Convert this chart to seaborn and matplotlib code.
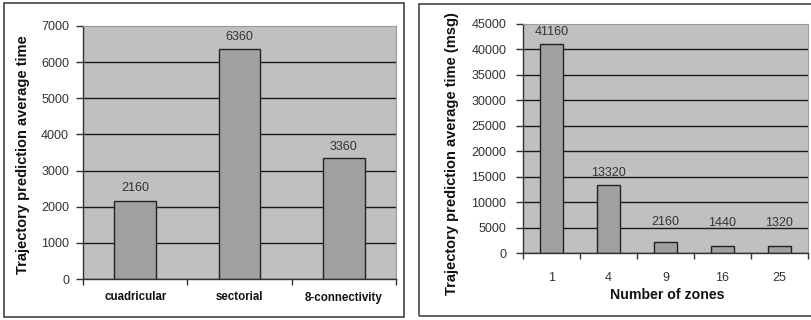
import matplotlib
matplotlib.use("Agg")
import matplotlib.pyplot as plt
from matplotlib.patches import Rectangle
from matplotlib.ticker import FixedLocator
import seaborn as sns
import pandas as pd

# Average trajectory prediction time per grid method
methods = ["cuadricular", "sectorial", "8-connectivity"]
method_times = [2160, 6360, 3360]
method_yticks = [0, 1000, 2000, 3000, 4000, 5000, 6000, 7000]

# Average trajectory prediction time per number of zones
zones = ["1", "4", "9", "16", "25"]
zone_times = [41160, 13320, 2160, 1440, 1320]
zone_yticks = [0, 5000, 10000, 15000, 20000, 25000, 30000, 35000, 40000, 45000]

sns.set_theme(style="white")
plt.rcParams["font.family"] = ["Liberation Sans", "DejaVu Sans"]

W, H = 812, 320
fig = plt.figure(figsize=(W / 100, H / 100), dpi=100)
fig.patch.set_facecolor("white")


def px_box(x0, y0, x1, y1):
    return [x0 / W, 1 - y1 / H, (x1 - x0) / W, (y1 - y0) / H]


# panel frames
for (x0, y0, x1, y1) in [(4, 3, 404, 317), (419, 4, 830, 316)]:
    fig.patches.append(Rectangle((x0 / W, 1 - y1 / H), (x1 - x0) / W, (y1 - y0) / H,
                                 transform=fig.transFigure, fill=False,
                                 edgecolor="#555555", linewidth=1.3))

PLOT_BG = "#c0c0c0"
BAR = "#a0a0a0"
EDGE = "#222222"


def style_axes(ax, yticks, ncat):
    ax.set_facecolor(PLOT_BG)
    ax.set_xlim(-0.5, ncat - 0.5)
    ax.set_ylim(yticks[0], yticks[-1])
    ax.set_yticks(yticks)
    ax.yaxis.grid(True, color="#1a1a1a", linewidth=1.0)
    ax.set_axisbelow(True)
    ax.get_ygridlines()[-1].set_visible(False)
    for s in ["top", "right"]:
        ax.spines[s].set_color("#9a9a9a")
        ax.spines[s].set_linewidth(0.8)
    for s in ["left", "bottom"]:
        ax.spines[s].set_color("#333333")
        ax.spines[s].set_linewidth(1.0)
    ax.xaxis.set_minor_locator(FixedLocator([i - 0.5 for i in range(ncat + 1)]))
    ax.tick_params(axis="x", which="major", length=0)
    ax.tick_params(axis="x", which="minor", length=4, width=1, color="#333333",
                   direction="out", bottom=True)
    ax.tick_params(axis="y", length=5, width=1, color="#333333", direction="out",
                   left=True, labelsize=9, labelcolor="#333333")
    ax.set_xlabel("")
    ax.set_ylabel("")


# left chart
ax1 = fig.add_axes(px_box(83, 26, 396, 279))
df1 = pd.DataFrame({"method": methods, "time": method_times})
sns.barplot(data=df1, x="method", y="time", order=methods, ax=ax1, color=BAR,
            saturation=1, width=0.4, edgecolor=EDGE, linewidth=1.0)
style_axes(ax1, method_yticks, len(methods))
ax1.tick_params(axis="y", pad=5)
ax1.tick_params(axis="x", which="major", pad=9, labelsize=8.3)
for lbl in ax1.get_xticklabels():
    lbl.set_fontweight("bold")
    lbl.set_color("#111111")
left_offsets = [13, 12, 11]
for i, (v, off) in enumerate(zip(method_times, left_offsets)):
    ax1.annotate(f"{v}", xy=(i, v), xytext=(0, off), textcoords="offset pixels",
                 ha="center", va="center", fontsize=9, color="#333333")

fig.text(23 / W, 1 - 155 / H, "Trajectory prediction average time", rotation=90,
         ha="center", va="center", fontsize=10.5, fontweight="bold", color="#111111")

# right chart
ax2 = fig.add_axes(px_box(523, 24, 808, 253))
df2 = pd.DataFrame({"zones": zones, "time": zone_times})
sns.barplot(data=df2, x="zones", y="time", order=zones, ax=ax2, color=BAR,
            saturation=1, width=0.4, edgecolor=EDGE, linewidth=1.0)
style_axes(ax2, zone_yticks, len(zones))
ax2.tick_params(axis="y", pad=7)
ax2.tick_params(axis="x", which="major", pad=14, labelsize=9, labelcolor="#333333")
right_offsets = [12, 12, 20, 23, 23]
for i, (v, off) in enumerate(zip(zone_times, right_offsets)):
    ax2.annotate(f"{v}", xy=(i, v), xytext=(0, off), textcoords="offset pixels",
                 ha="center", va="center", fontsize=9, color="#333333")

fig.text(452 / W, 1 - 154 / H, "Trajectory prediction average time (msg)", rotation=90,
         ha="center", va="center", fontsize=10.5, fontweight="bold", color="#111111")
fig.text(667 / W, 1 - 295 / H, "Number of zones", ha="center", va="center",
         fontsize=10.2, fontweight="bold", color="#111111")

fig.savefig("out.png", dpi=100, facecolor="white")
